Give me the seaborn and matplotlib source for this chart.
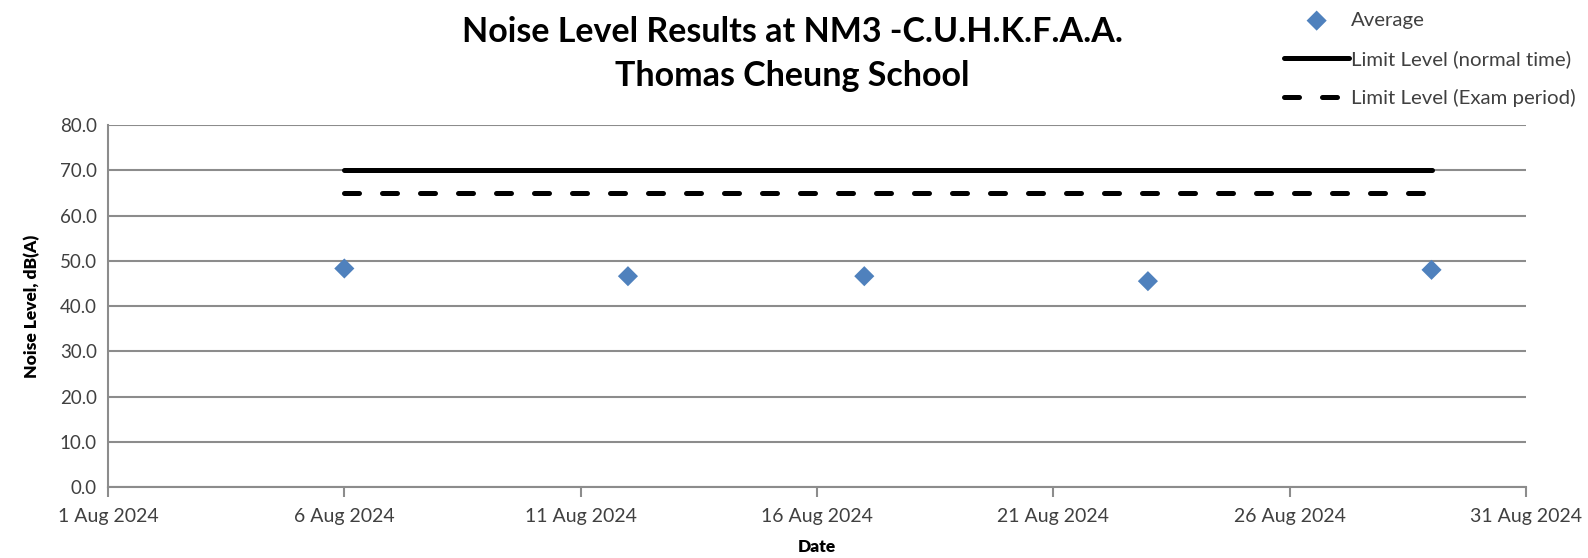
import matplotlib
matplotlib.use("Agg")
import matplotlib.pyplot as plt
import matplotlib.dates as mdates
import seaborn as sns
import pandas as pd

# data
sample_dates = ["2024-08-06", "2024-08-12", "2024-08-17", "2024-08-23", "2024-08-29"]
average_db = [48.3, 46.6, 46.6, 45.5, 48.0]

limit_dates = ["2024-08-06", "2024-08-29"]
limit_normal = [70.0, 70.0]
limit_exam = [65.0, 65.0]

x_ticks = ["2024-08-01", "2024-08-06", "2024-08-11", "2024-08-16",
           "2024-08-21", "2024-08-26", "2024-08-31"]
y_ticks = [0, 10, 20, 30, 40, 50, 60, 70, 80]

sns.set_style("white")
plt.rcParams["font.family"] = ["Lato", "DejaVu Sans"]

avg_df = pd.DataFrame({"date": pd.to_datetime(sample_dates), "value": average_db})
normal_df = pd.DataFrame({"date": pd.to_datetime(limit_dates), "value": limit_normal})
exam_df = pd.DataFrame({"date": pd.to_datetime(limit_dates), "value": limit_exam})

fig, ax = plt.subplots(figsize=(15.88, 5.58), dpi=100)
fig.subplots_adjust(left=0.068, right=0.961, top=0.776, bottom=0.127)

grid_col = "#8c8c8c"
for y in y_ticks:
    ax.axhline(y, color=grid_col, lw=1.5, zorder=0)

sns.lineplot(data=normal_df, x="date", y="value", ax=ax, color="black",
             lw=3.6, label="Limit Level (normal time)", solid_capstyle="round")
sns.lineplot(data=exam_df, x="date", y="value", ax=ax, color="black",
             lw=3.6, label="Limit Level (Exam period)")
ax.lines[-1].set_dashes((3.0, 4.6))
ax.lines[-1].set_dash_capstyle("round")
sns.scatterplot(data=avg_df, x="date", y="value", ax=ax, marker="D", s=105,
                color="#4F81BD", edgecolor="none", label="Average", zorder=5)

ax.set_xlim(pd.Timestamp(x_ticks[0]), pd.Timestamp(x_ticks[-1]))
ax.set_ylim(0, 80)
ax.set_xticks(pd.to_datetime(x_ticks))
ax.xaxis.set_major_formatter(mdates.DateFormatter("%-d %b %Y"))
ax.set_yticks(y_ticks)
ax.set_yticklabels([f"{v:.1f}" for v in y_ticks])

for s in ["top", "right"]:
    ax.spines[s].set_visible(False)
for s in ["left", "bottom"]:
    ax.spines[s].set_color(grid_col)
    ax.spines[s].set_linewidth(1.5)
ax.tick_params(axis="x", length=7, width=1.5, color=grid_col, labelsize=14,
               labelcolor="#404040", pad=8, direction="out", bottom=True)
ax.tick_params(axis="y", length=0, labelsize=13.5, labelcolor="#404040", pad=8)

ax.set_xlabel("Date", fontsize=12.5, fontweight="heavy", labelpad=10, color="black")
ax.set_ylabel("Noise Level, dB(A)", fontsize=12.5, fontweight="heavy",
              labelpad=14, color="black")

fig.suptitle("Noise Level Results at NM3 -C.U.H.K.F.A.A.\nThomas Cheung School",
             x=0.499, y=0.971, fontsize=24.5, fontweight="bold", linespacing=1.47,
             color="black")

handles, labels = ax.get_legend_handles_labels()
order = [labels.index("Average"), labels.index("Limit Level (normal time)"),
         labels.index("Limit Level (Exam period)")]
ax.get_legend().remove()
leg = fig.legend([handles[i] for i in order], [labels[i] for i in order],
                 loc="upper right", bbox_to_anchor=(1.004, 1.012), frameon=False,
                 fontsize=14.7, handlelength=3.2, handletextpad=0.1,
                 labelspacing=1.03)
for t in leg.get_texts():
    t.set_color("#404040")

fig.savefig("out.png", dpi=100)
